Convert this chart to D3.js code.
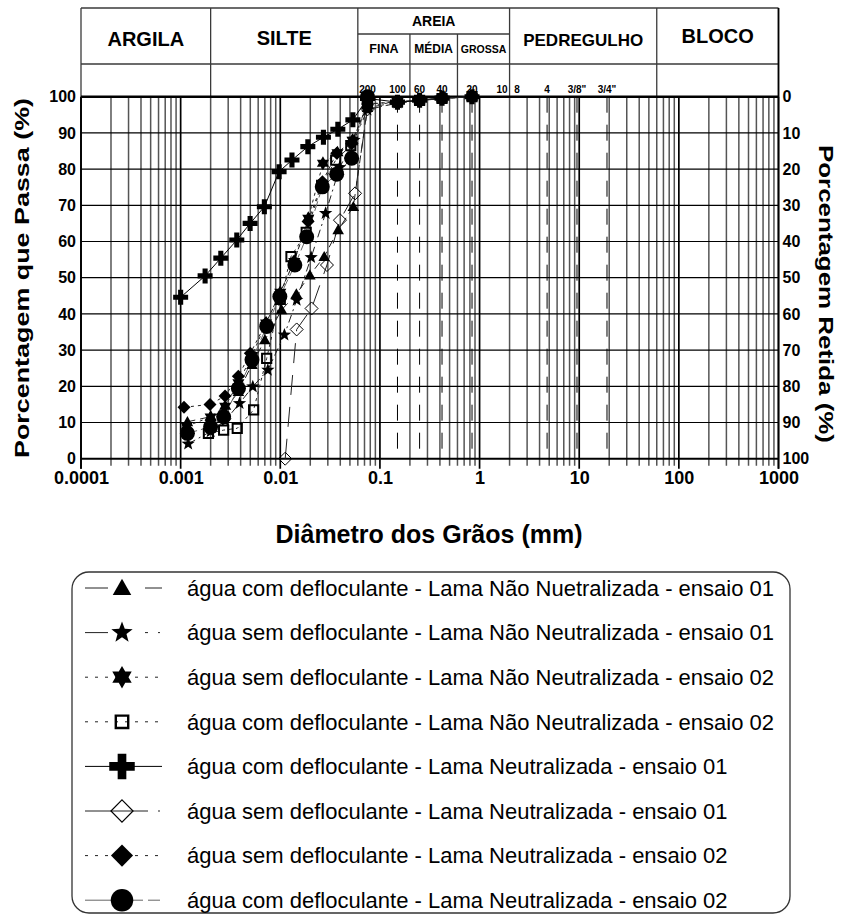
<!DOCTYPE html>
<html>
<head>
<meta charset="utf-8">
<script src="https://cdn.jsdelivr.net/npm/d3@7"></script>
<style>
  html, body { margin: 0; padding: 0; background: #fff; }
  svg { display: block; font-family: "Liberation Sans", Arial, Helvetica, sans-serif; }
</style>
</head>
<body>
<svg id="chart" width="843" height="917"></svg>
<script>
// ---- Soil classification (ABNT) ----
const classBounds = [0.0001, 0.002, 0.06, 2, 60, 1000];
const classNames = ["ARGILA", "SILTE", "AREIA", "PEDREGULHO", "BLOCO"];
const sandBounds = [0.06, 0.2, 0.6, 2];
const sandNames = ["FINA", "MÉDIA", "GROSSA"];

// ---- Sieves ----
const sieveNames = ["200", "100", "60", "40", "20", "10", "8", "4", "3/8\"", "3/4\""];
const sieveSizes = [0.075, 0.15, 0.25, 0.42, 0.84, 2.0, 2.38, 4.76, 9.5, 19.0];
const dashedSieves = [0.15, 0.25, 0.42, 0.84, 4.76, 9.5, 19.0];

// ---- Axes ----
const xTicks = [0.0001, 0.001, 0.01, 0.1, 1, 10, 100, 1000];
const xTickLabels = ["0.0001", "0.001", "0.01", "0.1", "1", "10", "100", "1000"];
const yTicks = [0, 10, 20, 30, 40, 50, 60, 70, 80, 90, 100];

// ---- Grain size curves: diameter (mm) / percent passing ----
const triD = [0.00117, 0.0020, 0.0027, 0.0038, 0.0052, 0.0070, 0.0103, 0.0145, 0.0198, 0.0276, 0.0381, 0.0541, 0.075, 0.15, 0.25, 0.42, 0.84];
const triP = [10.2, 11.6, 13.0, 18.5, 26.0, 32.8, 41.1, 45.5, 50.7, 55.8, 63.2, 69.6, 97.0, 98.4, 99.0, 99.5, 100];

const star5D = [0.00119, 0.0020, 0.0028, 0.0039, 0.0053, 0.0075, 0.0110, 0.0146, 0.0204, 0.0285, 0.0395, 0.0550, 0.075, 0.15, 0.25, 0.42, 0.84];
const star5P = [4.1, 7.5, 10.5, 15.3, 19.9, 24.5, 34.2, 43.8, 55.6, 67.8, 80.5, 88.0, 96.4, 98.3, 99.0, 99.6, 100];

const hexD = [0.00115, 0.0020, 0.0028, 0.0038, 0.0052, 0.0072, 0.0100, 0.0138, 0.0191, 0.0268, 0.0375, 0.0530, 0.075, 0.15, 0.25, 0.42, 0.84];
const hexP = [9.0, 11.5, 14.5, 21.0, 28.5, 37.5, 46.0, 54.5, 66.4, 81.6, 84.5, 88.0, 97.5, 98.6, 99.1, 99.6, 100];

const sqD = [0.0019, 0.0027, 0.0037, 0.0054, 0.0073, 0.0100, 0.0128, 0.0182, 0.0260, 0.0360, 0.0510, 0.075, 0.15, 0.25, 0.42, 0.84];
const sqP = [7.0, 7.9, 8.4, 13.5, 27.7, 44.0, 55.8, 62.5, 75.5, 82.5, 86.5, 98.0, 98.5, 99.0, 99.5, 100];

const plusD = [0.0010, 0.00176, 0.00253, 0.00366, 0.00498, 0.00692, 0.00973, 0.0131, 0.0189, 0.0271, 0.0378, 0.0535, 0.075, 0.15, 0.25, 0.42, 0.84];
const plusP = [44.6, 50.5, 55.4, 60.4, 65.0, 69.6, 79.3, 82.5, 86.2, 88.8, 91.0, 93.6, 99.5, 98.5, 99.0, 99.6, 100];

const dOpenD = [0.0112, 0.0146, 0.0206, 0.0294, 0.0397, 0.0563, 0.075, 0.15, 0.25, 0.42, 0.84];
const dOpenP = [0, 35.7, 41.5, 53.5, 65.9, 73.3, 96.5, 98.2, 98.9, 99.5, 100];

const dFillD = [0.00108, 0.00197, 0.00279, 0.00379, 0.0050, 0.0072, 0.0099, 0.0137, 0.0190, 0.0265, 0.0368, 0.0520, 0.075, 0.15, 0.25, 0.42, 0.84];
const dFillP = [14.2, 15.0, 17.3, 22.8, 29.1, 37.5, 45.5, 54.5, 65.5, 76.5, 84.4, 87.0, 98.0, 98.6, 99.1, 99.6, 100];

const circD = [0.00117, 0.0020, 0.0027, 0.0038, 0.0052, 0.0073, 0.0099, 0.0140, 0.0184, 0.0264, 0.0368, 0.0520, 0.075];
const circP = [7.0, 8.8, 11.6, 19.4, 27.3, 36.5, 44.8, 53.5, 61.3, 75.1, 78.6, 83.0, 100];

const seriesLabels = [
  "água com defloculante - Lama Não Nuetralizada - ensaio 01",
  "água sem defloculante - Lama Não Neutralizada - ensaio 01",
  "água sem defloculante - Lama Não Neutralizada - ensaio 02",
  "água com defloculante - Lama Não Neutralizada - ensaio 02",
  "água com defloculante - Lama Neutralizada - ensaio 01",
  "água sem defloculante - Lama Neutralizada - ensaio 01",
  "água sem defloculante - Lama Neutralizada - ensaio 02",
  "água com defloculante - Lama Neutralizada - ensaio 02"
];

// ---- Series table (data + drawing style) ----
// dash: pattern along the curve; ldash: pattern of the short legend sample
const series = [
  { d: triD,   p: triP,   marker: "triangle", r: 5.8, lk: 1.6, fill: "#000", sw: 0, dash: "8,5",     ldash: "23,37",            line: "#222" },
  { d: star5D, p: star5P, marker: "star5",    r: 7,   lk: 1.6, fill: "#000", sw: 0, dash: "8,4,2,4", ldash: "23,37,3,10,2,20",  line: "#222" },
  { d: hexD,   p: hexP,   marker: "hexagram", r: 7,   lk: 1.6, fill: "#000", sw: 0, dash: "3,4",     ldash: "3,7",              line: "#222" },
  { d: sqD,    p: sqP,    marker: "square",   r: 4.6, lk: 1.35, fill: "none", sw: 2, dash: "3,4",    ldash: "3,7",              line: "#222" },
  { d: plusD,  p: plusP,  marker: "plus",     r: 7.5, lk: 1.7, fill: "#000", sw: 0, dash: null,      ldash: null,               line: "#000" },
  { d: dOpenD, p: dOpenP, marker: "diamond",  r: 6.5, lk: 1.7, fill: "none", sw: 1, dash: "20,12",   ldash: "63,10,2,10",       line: "#222" },
  { d: dFillD, p: dFillP, marker: "diamond",  r: 6.5, lk: 1.7, fill: "#000", sw: 0, dash: "3,4",     ldash: "3,7",              line: "#222" },
  { d: circD,  p: circP,  marker: "circle",   r: 7.5, lk: 1.5, fill: "#000", sw: 0, dash: "10,4",    ldash: "58,5,12",          line: "#666" }
].map((s, i) => Object.assign(s, { label: seriesLabels[i] }));

// ---- Marker shapes ----
function markerPath(type, r) {
  const p = d3.path();
  const poly = pts => { pts.forEach((q, i) => i ? p.lineTo(q[0], q[1]) : p.moveTo(q[0], q[1])); p.closePath(); };
  const starPts = (n, ro, ri) => d3.range(2 * n).map(i => {
    const a = -Math.PI / 2 + i * Math.PI / n, rr = i % 2 ? ri : ro;
    return [rr * Math.cos(a), rr * Math.sin(a)];
  });
  switch (type) {
    case "triangle": poly([[0, -r], [r, r * 0.75], [-r, r * 0.75]]); break;
    case "star5": poly(starPts(5, r, r * 0.42)); break;
    case "hexagram": poly(starPts(6, r, r * 0.58)); break;
    case "square": { const h = r; poly([[-h, -h], [h, -h], [h, h], [-h, h]]); break; }
    case "plus": { const t = r * 0.34; poly([[-t, -r], [t, -r], [t, -t], [r, -t], [r, t], [t, t], [t, r], [-t, r], [-t, t], [-r, t], [-r, -t], [-t, -t]]); break; }
    case "diamond": poly([[0, -r], [r, 0], [0, r], [-r, 0]]); break;
    case "circle": p.moveTo(r, 0); p.arc(0, 0, r, 0, 2 * Math.PI); p.closePath(); break;
  }
  return p.toString();
}

// ---- Scales ----
const x = d3.scaleLog().domain([1e-4, 1e3]).range([81, 778.5]);
const y = d3.scaleLinear().domain([0, 100]).range([458.7, 96.7]);
const yRet = d3.scaleLinear().domain([100, 0]).range([458.7, 96.7]);
const x0 = x.range()[0], x1 = x.range()[1], yTop = y(100), yBot = y(0);

const svg = d3.select("#chart");

// ---- Header table ----
const hdr = svg.append("g").attr("stroke", "#3a3a3a").attr("stroke-width", 1.3);
const hTop = 8, hSub = 34, hBot = 64;
hdr.append("line").attr("x1", x0).attr("x2", x1).attr("y1", hTop).attr("y2", hTop);
hdr.append("line").attr("x1", x0).attr("x2", x1).attr("y1", hBot).attr("y2", hBot);
hdr.append("line").attr("x1", x(0.06)).attr("x2", x(2)).attr("y1", hSub).attr("y2", hSub);
classBounds.forEach(b => hdr.append("line").attr("x1", x(b)).attr("x2", x(b)).attr("y1", hTop).attr("y2", yTop));
sandBounds.slice(1, -1).forEach(b => hdr.append("line").attr("x1", x(b)).attr("x2", x(b)).attr("y1", hSub).attr("y2", yTop));

const classStyle = { ARGILA: [39, 20], SILTE: [38, 20], AREIA: [21, 14], PEDREGULHO: [40, 17], BLOCO: [36, 20] };
classNames.forEach((n, i) => {
  const cx = (x(classBounds[i]) + x(classBounds[i + 1])) / 2;
  svg.append("text").attr("x", cx).attr("y", classStyle[n][0]).attr("dy", "0.35em")
    .attr("text-anchor", "middle").attr("font-weight", "bold").attr("font-size", classStyle[n][1]).text(n);
});
const sandSize = [12.5, 12, 10.5];
sandNames.forEach((n, i) => {
  const cx = (x(sandBounds[i]) + x(sandBounds[i + 1])) / 2;
  svg.append("text").attr("x", cx).attr("y", 49).attr("dy", "0.35em")
    .attr("text-anchor", "middle").attr("font-weight", "bold").attr("font-size", sandSize[i]).text(n);
});

// sieve numbers above the plot
sieveNames.forEach((n, i) => {
  const end = n === "10";
  svg.append("text").attr("x", x(sieveSizes[i]) + (end ? -2 : 0)).attr("y", 93)
    .attr("text-anchor", end ? "end" : "middle").attr("font-weight", "bold").attr("font-size", 10).text(n);
});

// ---- Grid ----
const grid = svg.append("g");
const minors = [];
for (let k = -4; k < 3; k++) for (let m = 2; m <= 9; m++) minors.push(m * Math.pow(10, k));
grid.selectAll(".vmin").data(minors).enter().append("line")
  .attr("x1", d => x(d)).attr("x2", d => x(d)).attr("y1", yTop).attr("y2", yBot + 7)
  .attr("stroke", "#555").attr("stroke-width", 1.5);
grid.selectAll(".vmaj").data(xTicks).enter().append("line")
  .attr("x1", d => x(d)).attr("x2", d => x(d)).attr("y1", yTop).attr("y2", yBot + 10)
  .attr("stroke", "#000").attr("stroke-width", 1.7);
grid.selectAll(".hg").data(yTicks).enter().append("line")
  .attr("x1", x0).attr("x2", x1).attr("y1", d => y(d)).attr("y2", d => y(d))
  .attr("stroke", "#000").attr("stroke-width", d => d === 100 ? 2.6 : (d === 0 ? 2 : 1.2));
// sieve openings (dashed)
grid.selectAll(".sv").data(dashedSieves).enter().append("line")
  .attr("x1", d => x(d)).attr("x2", d => x(d)).attr("y1", yTop).attr("y2", yBot)
  .attr("stroke", "#000").attr("stroke-width", 1).attr("stroke-dasharray", "16,12");
// frame sides
grid.append("line").attr("x1", x0).attr("x2", x0).attr("y1", yTop).attr("y2", yBot + 10).attr("stroke", "#000").attr("stroke-width", 1.7);
grid.append("line").attr("x1", x1).attr("x2", x1).attr("y1", hTop).attr("y2", yBot + 10).attr("stroke", "#000").attr("stroke-width", 1.7);

// ---- Axes labels ----
const axB = svg.append("g").attr("transform", `translate(0,${yBot + 13})`)
  .call(d3.axisBottom(x).tickValues(xTicks).tickFormat((d, i) => xTickLabels[i]).tickSize(0).tickPadding(0));
axB.select(".domain").remove();
axB.selectAll("text").attr("font-family", null).attr("font-size", 18).attr("font-weight", "bold").attr("fill", "#000").attr("dy", "0.71em");

const axL = svg.append("g").attr("transform", `translate(${x0 - 5},0)`)
  .call(d3.axisLeft(y).tickValues(yTicks).tickSize(0).tickPadding(0));
axL.select(".domain").remove();
axL.selectAll("text").attr("font-family", null).attr("font-size", 16).attr("font-weight", "bold").attr("fill", "#000");

const axR = svg.append("g").attr("transform", `translate(${x1 + 4},0)`)
  .call(d3.axisRight(yRet).tickValues(yTicks).tickSize(0).tickPadding(0));
axR.select(".domain").remove();
axR.selectAll("text").attr("font-family", null).attr("font-size", 16).attr("font-weight", "bold").attr("fill", "#000");

svg.append("text").attr("x", 429).attr("y", 534).attr("dy", "0.35em").attr("text-anchor", "middle")
  .attr("font-weight", "bold").attr("font-size", 25).text("Diâmetro dos Grãos (mm)");
svg.append("text").attr("transform", "translate(22,278) rotate(-90)").attr("dy", "0.35em").attr("text-anchor", "middle")
  .attr("font-weight", "bold").attr("font-size", 20)
  .attr("textLength", 360).attr("lengthAdjust", "spacingAndGlyphs").text("Porcentagem que Passa (%)");
svg.append("text").attr("transform", "translate(826,294) rotate(90)").attr("dy", "0.35em").attr("text-anchor", "middle")
  .attr("font-weight", "bold").attr("font-size", 20)
  .attr("textLength", 298).attr("lengthAdjust", "spacingAndGlyphs").text("Porcentagem Retida (%)");

// ---- Curves ----
const line = d3.line().x(d => x(d[0])).y(d => y(d[1]));
const plot = svg.append("g");
series.forEach(s => {
  const pts = s.d.map((d, i) => [d, s.p[i]]);
  plot.append("path").attr("d", line(pts)).attr("fill", "none")
    .attr("stroke", s.line).attr("stroke-width", 1).attr("stroke-dasharray", s.dash);
});
series.forEach(s => {
  const pts = s.d.map((d, i) => [d, s.p[i]]);
  plot.selectAll(null).data(pts).enter().append("path")
    .attr("transform", d => `translate(${x(d[0])},${y(d[1])})`)
    .attr("d", markerPath(s.marker, s.r))
    .attr("fill", s.fill).attr("stroke", s.sw ? "#000" : "none").attr("stroke-width", s.sw);
});

// ---- Legend ----
const lg = svg.append("g");
const lx0 = 72, lx1 = 790, ly0 = 572, ly1 = 913, rad = 17;
lg.append("rect").attr("x", lx0).attr("y", ly0).attr("width", lx1 - lx0).attr("height", ly1 - ly0)
  .attr("rx", rad).attr("ry", rad).attr("fill", "none").attr("stroke", "#333").attr("stroke-width", 1.3);
series.forEach((s, i) => {
  const cy = 588 + i * 44.6;
  lg.append("line").attr("x1", 85).attr("x2", 162).attr("y1", cy).attr("y2", cy)
    .attr("stroke", s.line).attr("stroke-width", 1).attr("stroke-dasharray", s.ldash);
  lg.append("path").attr("transform", `translate(122,${cy})`).attr("d", markerPath(s.marker, s.r * s.lk))
    .attr("fill", s.fill).attr("stroke", s.sw ? "#000" : "none").attr("stroke-width", s.sw ? s.sw * 1.2 : 0);
  lg.append("text").attr("x", 187).attr("y", cy).attr("dy", "0.35em").attr("font-size", 22).text(s.label);
});
</script>
</body>
</html>
